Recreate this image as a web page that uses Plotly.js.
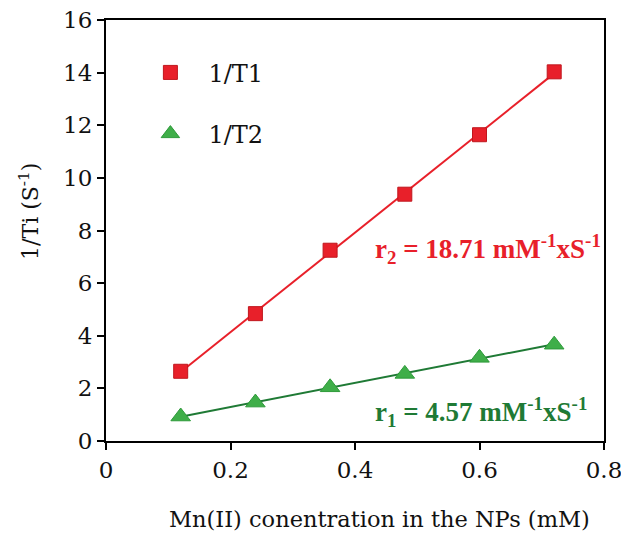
<!DOCTYPE html>
<html><head><meta charset="utf-8">
<script src="https://cdn.plot.ly/plotly-3.0.1.min.js"></script>
<style>html,body{margin:0;padding:0;background:#fff;}#chart{width:621px;height:533px;}</style>
</head><body><div id="chart"></div>
<script>
const concentration = [0.12, 0.24, 0.36, 0.48, 0.60, 0.72];
const invT1 = [2.65, 4.84, 7.25, 9.38, 11.64, 14.03];
const invT2 = [0.93, 1.46, 2.04, 2.55, 3.16, 3.66];
const seriesNames = ['1/T1', '1/T2'];
const xTicks = [0, 0.2, 0.4, 0.6, 0.8];
const yTicks = [0, 2, 4, 6, 8, 10, 12, 14, 16];
const xTitle = 'Mn(II) conentration in the NPs (mM)';
const yTitle = '1/Ti (S<sup>-1</sup>)';

function fit(xs, ys) {
  const n = xs.length;
  const mx = xs.reduce((a, b) => a + b, 0) / n;
  const my = ys.reduce((a, b) => a + b, 0) / n;
  let num = 0, den = 0;
  for (let i = 0; i < n; i++) { num += (xs[i] - mx) * (ys[i] - my); den += (xs[i] - mx) ** 2; }
  const s = num / den, b = my - s * mx;
  const x0 = Math.min(...xs), x1 = Math.max(...xs);
  return {x: [x0, x1], y: [s * x0 + b, s * x1 + b]};
}

const RED = '#e8202a', GREEN = '#3fae49', DGREEN = '#1f7a35';
const f1 = fit(concentration, invT1), f2 = fit(concentration, invT2);
const font = 'DejaVu Serif, Liberation Serif, serif';
const bfont = 'Liberation Serif, DejaVu Serif, serif';

const data = [
  {x: f1.x, y: f1.y, mode: 'lines', line: {color: RED, width: 2}, showlegend: false, hoverinfo: 'skip'},
  {x: f2.x, y: f2.y, mode: 'lines', line: {color: DGREEN, width: 2}, showlegend: false, hoverinfo: 'skip'},
  {x: concentration, y: invT1, name: seriesNames[0], mode: 'markers', legendgroup: 'a',
   marker: {symbol: 'square', size: 14, color: RED, line: {color: '#c0161d', width: 1}}},
  {x: concentration, y: invT2, name: seriesNames[1], mode: 'markers', legendgroup: 'b',
   marker: {symbol: 'triangle-up', size: 17, color: GREEN, line: {color: '#2e9a3a', width: 1}}}
];

const layout = {
  width: 621, height: 533,
  margin: {l: 106, r: 17, t: 20, b: 92},
  paper_bgcolor: '#fff', plot_bgcolor: '#fff',
  font: {family: font, size: 22, color: '#111'},
  showlegend: true,
  legend: {x: 0.053, y: 0.928, xanchor: 'left', yanchor: 'top', bgcolor: 'rgba(0,0,0,0)', itemwidth: 66,
           font: {family: font, size: 24, color: '#111'}, tracegroupgap: 27},
  xaxis: {range: [0, 0.8], tickvals: xTicks, ticktext: xTicks.map(v => v === 0 ? '0' : String(v)),
          showgrid: false, zeroline: false, showline: true, linecolor: '#000', linewidth: 2, mirror: true,
          ticks: 'outside', ticklen: 7, tickwidth: 2, tickcolor: '#000', ticklabeloverflow: 'allow',
          tickfont: {family: font, size: 23, color: '#111'}},
  yaxis: {range: [0, 16], tickvals: yTicks, showgrid: false, zeroline: false, showline: true, linecolor: '#000',
          linewidth: 2, mirror: true, ticks: 'outside', ticklen: 7, tickwidth: 2, tickcolor: '#000',
          ticklabeloverflow: 'allow', tickfont: {family: font, size: 23, color: '#111'}},
  annotations: [
    {x: 0.55, y: -0.185, xref: 'paper', yref: 'paper', xanchor: 'center', yanchor: 'middle', showarrow: false,
     text: xTitle, font: {family: font, size: 22.5, color: '#111'}},
    {x: -0.155, y: 0.546, xref: 'paper', yref: 'paper', xanchor: 'center', yanchor: 'middle', showarrow: false,
     textangle: -90, text: yTitle, font: {family: font, size: 22, color: '#111'}},
    {x: 0.998, y: 7.3, xref: 'paper', yref: 'y', xanchor: 'right', yanchor: 'middle', showarrow: false,
     text: '<b>r<sub>2</sub> = 18.71 mM<sup>-1</sup>xS<sup>-1</sup></b>', font: {family: bfont, size: 27, color: RED}},
    {x: 0.97, y: 1.1, xref: 'paper', yref: 'y', xanchor: 'right', yanchor: 'middle', showarrow: false,
     text: '<b>r<sub>1</sub> = 4.57 mM<sup>-1</sup>xS<sup>-1</sup></b>', font: {family: bfont, size: 27, color: DGREEN}}
  ]
};

Plotly.newPlot('chart', data, layout, {displayModeBar: false, staticPlot: true});
</script></body></html>
